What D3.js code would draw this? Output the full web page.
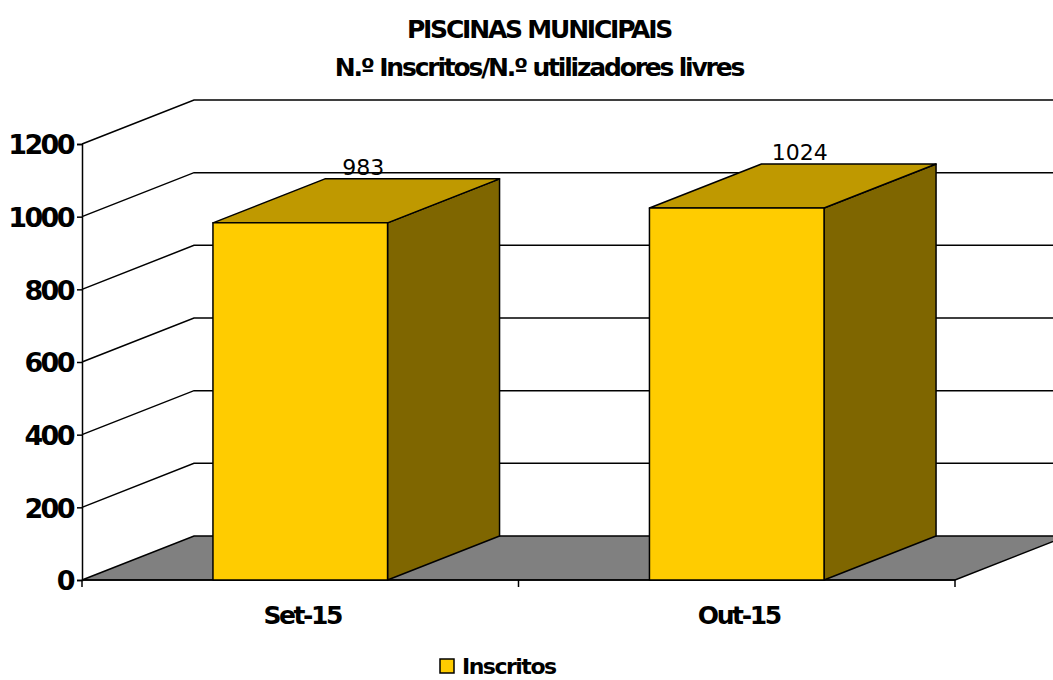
<!DOCTYPE html>
<html>
<head>
<meta charset="utf-8">
<script src="https://cdn.jsdelivr.net/npm/d3@7"></script>
<style>
  body { margin: 0; background: #fff; }
  svg { display: block; font-family: "DejaVu Sans", sans-serif; }
</style>
</head>
<body>
<svg id="chart" width="1053" height="680"></svg>
<script>
// data
var categories = ['Set-15', 'Out-15'];
var inscritos = [983, 1024];
var yTicks = [0, 200, 400, 600, 800, 1000, 1200];
var titleLines = ['PISCINAS MUNICIPAIS', 'N.º Inscritos/N.º utilizadores livres'];
var seriesName = 'Inscritos';

var svg = d3.select('#chart');

// depth offset of the 3d box
var dx = 112, dy = -44;

var x = d3.scaleBand().domain(categories).range([82, 955]).paddingInner(0).paddingOuter(0);
var y = d3.scaleLinear().domain([0, 1200]).range([580, 144]);

var barW = x.bandwidth() * 0.4;

// title
svg.selectAll('text.title').data(titleLines).enter().append('text')
    .attr('class', 'title')
    .attr('x', 539)
    .attr('y', function(d, i) { return 38 + i * 38; })
    .attr('text-anchor', 'middle')
    .style('font-weight', 'bold')
    .style('font-size', '25px')
    .style('letter-spacing', '-2.2px')
    .text(function(d) { return d; });

// floor
var x0 = x.range()[0], x1 = x.range()[1];
svg.append('path')
    .attr('d', 'M' + x0 + ',' + y(0) + 'L' + x1 + ',' + y(0) +
        'L' + (x1 + dx) + ',' + (y(0) + dy) + 'L' + (x0 + dx) + ',' + (y(0) + dy) + 'Z')
    .attr('fill', '#808080')
    .attr('stroke', '#000')
    .attr('stroke-width', 1.5);

// gridlines: left wall diagonal + back wall horizontal
var grid = svg.append('g').attr('fill', 'none').attr('stroke', '#000').attr('stroke-width', 1.5);
grid.selectAll('path').data(yTicks.filter(function(v) { return v > 0; })).enter().append('path')
    .attr('d', function(v) {
        return 'M' + x0 + ',' + y(v) + 'L' + (x0 + dx) + ',' + (y(v) + dy) + 'L' + (x1 + dx) + ',' + (y(v) + dy);
    });

// y axis
var yAxis = svg.append('g')
    .attr('transform', 'translate(' + x0 + ',0)')
    .call(d3.axisLeft(y).tickValues(yTicks).tickFormat(d3.format('d')).tickSize(5).tickPadding(4));
yAxis.select('.domain').attr('stroke-width', 1.5);
yAxis.selectAll('line').attr('stroke-width', 1.5);
yAxis.selectAll('text')
    .style('font-family', '"DejaVu Sans", sans-serif')
    .style('font-weight', 'bold')
    .style('font-size', '27px')
    .style('letter-spacing', '-2.6px')
    .attr('dy', '0.36em')
    .attr('fill', '#000');

// category axis line and ticks at band edges
svg.append('line')
    .attr('x1', x0).attr('x2', x1).attr('y1', y(0)).attr('y2', y(0))
    .attr('stroke', '#000').attr('stroke-width', 1.5);
var edges = categories.map(function(c) { return x(c); }).concat([x1]);
svg.selectAll('line.ctick').data(edges).enter().append('line')
    .attr('class', 'ctick')
    .attr('x1', function(d) { return d; }).attr('x2', function(d) { return d; })
    .attr('y1', y(0)).attr('y2', y(0) + 7)
    .attr('stroke', '#000').attr('stroke-width', 1.5);
svg.selectAll('text.cat').data(categories).enter().append('text')
    .attr('class', 'cat')
    .attr('x', function(c) { return x(c) + x.bandwidth() / 2 + 2; })
    .attr('y', 624)
    .attr('text-anchor', 'middle')
    .style('font-weight', 'bold')
    .style('font-size', '25px')
    .style('letter-spacing', '-2.4px')
    .text(function(c) { return c; });

// 3d bars
var bars = svg.selectAll('g.bar').data(categories).enter().append('g').attr('class', 'bar')
    .attr('stroke', '#000').attr('stroke-width', 1.5).attr('stroke-linejoin', 'round');
bars.each(function(c, i) {
    var g = d3.select(this);
    var left = x(c) + (x.bandwidth() - barW) / 2, right = left + barW;
    var top = y(inscritos[i]), bottom = y(0);
    // side
    g.append('path')
        .attr('d', 'M' + right + ',' + bottom + 'L' + (right + dx) + ',' + (bottom + dy) +
            'L' + (right + dx) + ',' + (top + dy) + 'L' + right + ',' + top + 'Z')
        .attr('fill', '#7f6600');
    // top
    g.append('path')
        .attr('d', 'M' + left + ',' + top + 'L' + (left + dx) + ',' + (top + dy) +
            'L' + (right + dx) + ',' + (top + dy) + 'L' + right + ',' + top + 'Z')
        .attr('fill', '#bf9900');
    // front
    g.append('rect')
        .attr('x', left).attr('y', top).attr('width', barW).attr('height', bottom - top)
        .attr('fill', '#ffcc00');
});

// value labels
svg.selectAll('text.val').data(categories).enter().append('text')
    .attr('class', 'val')
    .attr('x', function(c) { return x(c) + x.bandwidth() / 2 + 63; })
    .attr('y', function(c, i) { return y(inscritos[i]) + dy - 4; })
    .attr('text-anchor', 'middle')
    .style('font-size', '22px')
    .text(function(c, i) { return inscritos[i]; });

// legend at the bottom edge
var legend = svg.append('g').attr('transform', 'translate(440,659)');
legend.append('rect')
    .attr('width', 14).attr('height', 14)
    .attr('fill', '#ffcc00').attr('stroke', '#000').attr('stroke-width', 1.5);
legend.append('text')
    .attr('x', 22).attr('y', 15)
    .style('font-weight', 'bold')
    .style('font-size', '22px')
    .style('letter-spacing', '-1.5px')
    .text(seriesName);
</script>
</body>
</html>
